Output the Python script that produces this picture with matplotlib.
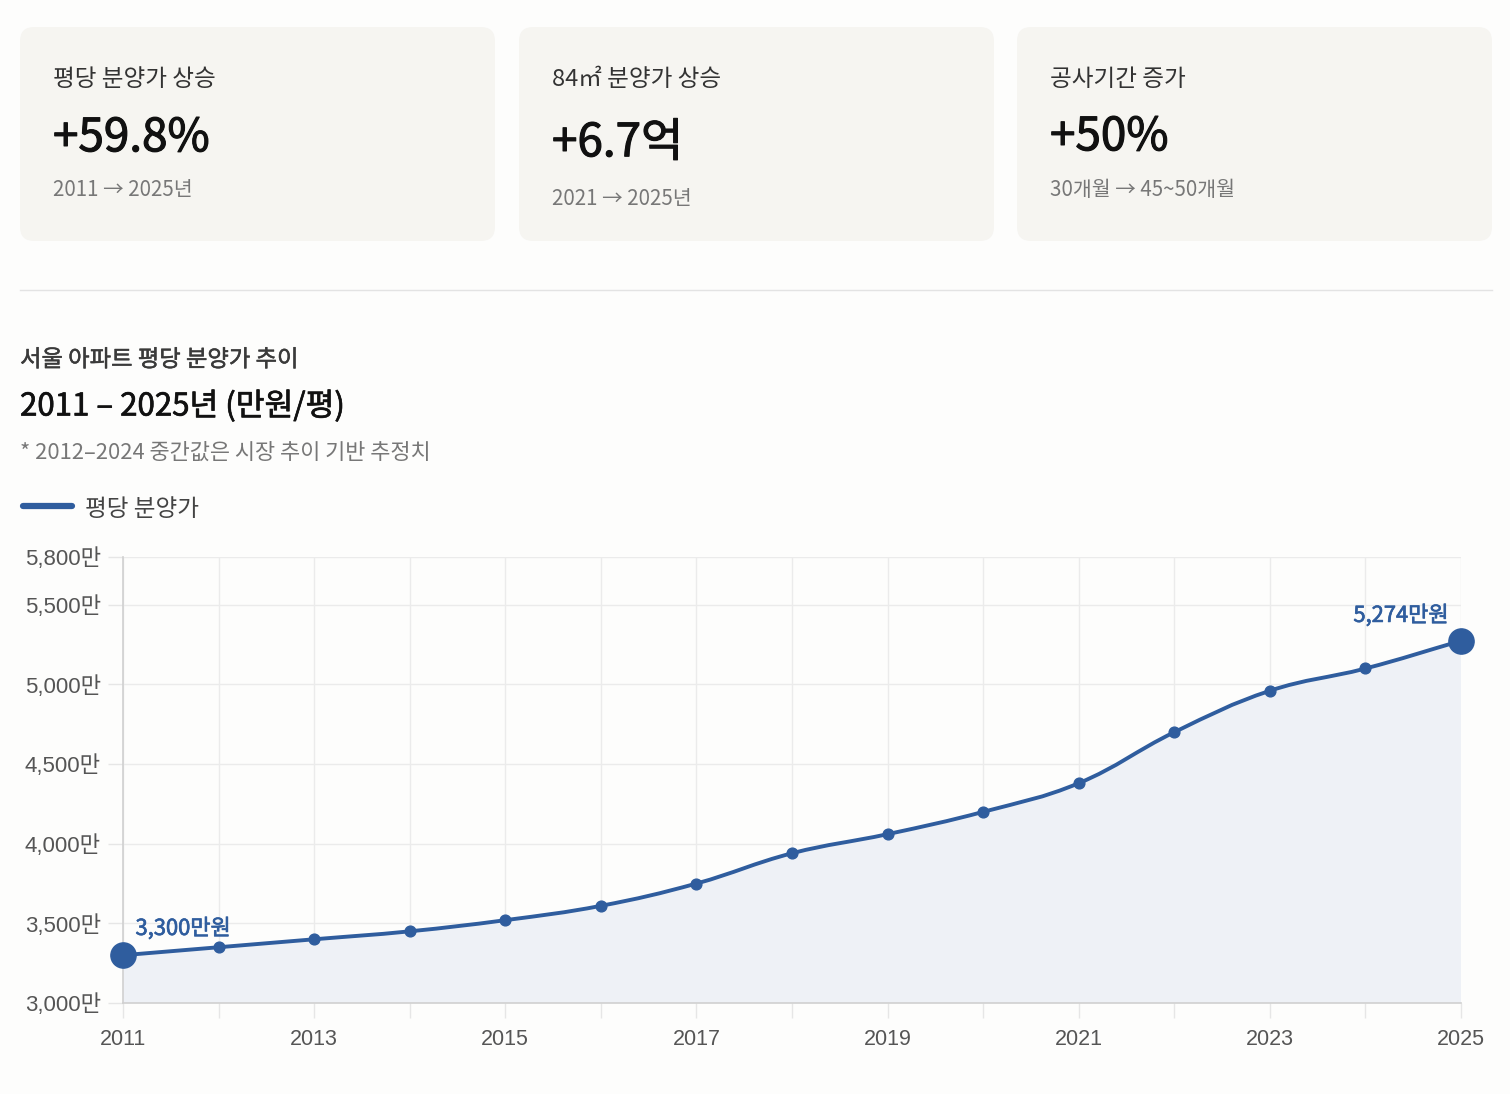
import numpy as np
import matplotlib
matplotlib.use('Agg')
import matplotlib.pyplot as plt
import matplotlib.patheffects as pe
from matplotlib.patches import FancyBboxPatch, PathPatch
from matplotlib.path import Path
from matplotlib.lines import Line2D

# 데이터
years = [2011, 2012, 2013, 2014, 2015, 2016, 2017, 2018, 2019, 2020, 2021, 2022, 2023, 2024, 2025]
price = [3300, 3350, 3400, 3450, 3520, 3610, 3750, 3940, 4060, 4200, 4380, 4700, 4960, 5100, 5274]
y_ticks = [3000, 3500, 4000, 4500, 5000, 5500, 5800]
x_labels = ['2011', '', '2013', '', '2015', '', '2017', '', '2019', '', '2021', '', '2023', '', '2025']

card_labels = ['평당 분양가 상승', '84㎡ 분양가 상승', '공사기간 증가']
card_values = ['+59.8%', '+6.7억', '+50%']
card_subs = ['2011 → 2025년', '2021 → 2025년', '30개월 → 45~50개월']

KR = ['Noto Sans CJK KR', 'DejaVu Sans']
TICK = ['Liberation Sans', 'Noto Sans CJK KR']
BLUE = '#2f5d9e'


def medium(color, w=0.5):
    # 중간 굵기 흉내
    return [pe.withStroke(linewidth=w, foreground=color)]


W, H = 1510, 1094
fig = plt.figure(figsize=(W / 100, H / 100), dpi=100)
fig.patch.set_facecolor('#fdfdfc')

# 배경 (픽셀 좌표)
bg = fig.add_axes([0, 0, 1, 1])
bg.set_xlim(0, W)
bg.set_ylim(H, 0)
bg.axis('off')

card_x = [20, 519, 1017]
value_y = [138, 143, 137]
sub_y = [190, 199, 190]
for i in range(3):
    x0 = card_x[i]
    bg.add_patch(FancyBboxPatch((x0, 27), 475, 214,
                                boxstyle='round,pad=0,rounding_size=14',
                                facecolor='#f6f5f1', edgecolor='none'))
    bg.text(x0 + 33, 80, card_labels[i], family=KR, fontsize=17,
            color='#333333', va='center', ha='left')
    bg.text(x0 + 33, value_y[i], card_values[i], family=KR, fontsize=33,
            color='#111111', va='center', ha='left',
            path_effects=medium('#111111', 0.8))
    bg.text(x0 + 33, sub_y[i], card_subs[i], family=KR, fontsize=14.8,
            color='#777777', va='center', ha='left')

bg.plot([20, 1492], [290, 290], color='#e3e3e3', lw=1)

bg.text(20, 360, '서울 아파트 평당 분양가 추이', family=KR, fontsize=16.8,
        color='#3a3a3a', va='center', path_effects=medium('#3a3a3a', 0.35))
bg.text(20, 406, '2011 – 2025년 (만원/평)', family=KR, fontsize=22.5,
        color='#111111', va='center', path_effects=medium('#111111', 0.5))
bg.text(20, 453, '* 2012–2024 중간값은 시장 추이 기반 추정치', family=KR,
        fontsize=15.8, color='#777777', va='center')
bg.add_line(Line2D([23, 72], [506, 506], color=BLUE, lw=4.5,
                   solid_capstyle='round'))
bg.text(85, 509, '평당 분양가', family=KR, fontsize=17, color='#444444',
        va='center')

# 차트
ax = fig.add_axes([123 / W, 1 - 1003 / H, (1461 - 123) / W, (1003 - 557) / H])
ax.set_facecolor('none')
ax.set_xlim(years[0], years[-1])
ax.set_ylim(3000, 5800)
ax.set_xticks(years)
ax.set_xticklabels(x_labels)
ax.set_yticks(y_ticks)
ax.set_yticklabels([f'{v:,}만' for v in y_ticks])
for lab in ax.get_xticklabels():
    lab.set_family(TICK)
    lab.set_fontsize(15.5)
    lab.set_color('#555555')
for lab in ax.get_yticklabels():
    lab.set_family(TICK)
    lab.set_fontsize(16)
    lab.set_color('#555555')
ax.tick_params(axis='both', length=11, width=1, color='#e6e6e6')
ax.tick_params(axis='x', pad=8)
ax.tick_params(axis='y', pad=5)
ax.grid(True, color='#ebebeb', lw=1)
ax.set_axisbelow(True)
for s in ['top', 'right']:
    ax.spines[s].set_visible(False)
for s in ['left', 'bottom']:
    ax.spines[s].set_color('#d0d0d0')
    ax.spines[s].set_linewidth(1.2)

# 부드러운 곡선 (스플라인 제어점)
sx = (1461 - 123) / 14.0
sy = (1003 - 557) / 2800.0
xs = np.array(years, dtype=float)
ys = np.array(price, dtype=float)
n = len(xs)
t = 0.4
verts = [(xs[0], ys[0])]
codes = [Path.MOVETO]
cps = []
for i in range(n):
    p = i - 1 if i > 0 else i
    q = i + 1 if i < n - 1 else i
    d01 = np.hypot((xs[i] - xs[p]) * sx, (ys[i] - ys[p]) * sy)
    d12 = np.hypot((xs[q] - xs[i]) * sx, (ys[q] - ys[i]) * sy)
    tot = d01 + d12
    s01 = d01 / tot
    s12 = d12 / tot
    dx = xs[q] - xs[p]
    dy = ys[q] - ys[p]
    cps.append(((xs[i] - t * s01 * dx, ys[i] - t * s01 * dy),
                (xs[i] + t * s12 * dx, ys[i] + t * s12 * dy)))
for i in range(1, n):
    verts += [cps[i - 1][1], cps[i][0], (xs[i], ys[i])]
    codes += [Path.CURVE4] * 3

line_path = Path(verts, codes)
fill_path = Path(verts + [(xs[-1], 3000), (xs[0], 3000), (xs[0], ys[0])],
                 codes + [Path.LINETO, Path.LINETO, Path.CLOSEPOLY])
ax.add_patch(PathPatch(fill_path, facecolor='#eef1f6', edgecolor='none', zorder=2))
ax.add_patch(PathPatch(line_path, facecolor='none', edgecolor=BLUE, lw=2.8,
                       capstyle='round', zorder=3))
ax.scatter(xs[1:-1], ys[1:-1], s=60, color=BLUE, zorder=4, clip_on=False)
ax.scatter([xs[0], xs[-1]], [ys[0], ys[-1]], s=330, color=BLUE, zorder=5,
           clip_on=False)

ax.annotate(f'{price[0]:,}만원', (xs[0], ys[0]), xytext=(9, 11),
            textcoords='offset points', family=KR, fontsize=15.8,
            color=BLUE, ha='left', va='bottom', path_effects=medium(BLUE, 0.5))
ax.annotate(f'{price[-1]:,}만원', (xs[-1], ys[-1]), xytext=(-9, 10),
            textcoords='offset points', family=KR, fontsize=15.8,
            color=BLUE, ha='right', va='bottom', path_effects=medium(BLUE, 0.5))

fig.savefig('out.png', dpi=100, facecolor=fig.get_facecolor())
